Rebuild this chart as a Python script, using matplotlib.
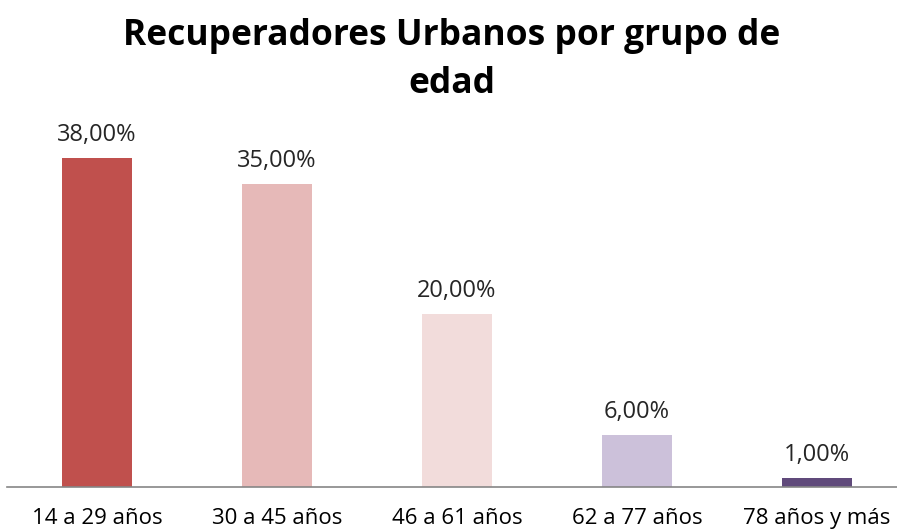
import numpy as np
import matplotlib.pyplot as plt

categories = ["14 a 29 años", "30 a 45 años", "46 a 61 años", "62 a 77 años", "78 años y más"]
values = [38, 35, 20, 6, 1]
colors = ["#C0504D", "#E6B9B8", "#F2DCDB", "#CCC1DA", "#604A7B"]

fig = plt.figure(figsize=(8.97, 5.31), dpi=100)
ax = fig.add_axes([7/897, 44/531, 900/897, 346/531])
x = np.arange(len(categories))
ax.bar(x, values, width=0.39, color=colors)
for xi, v in zip(x, values):
    ax.annotate(f"{v:.2f}%".replace(".", ","), (xi, v), xytext=(0, 8), textcoords="offset points",
                ha="center", va="bottom", fontsize=17, color="#262626", family="Open Sans")
ax.set_xlim(-0.5, 4.5)
ax.set_ylim(0, 40)
ax.set_yticks([])
ax.set_xticks(x)
ax.set_xticklabels(categories, fontsize=16, family="Open Sans", color="#000000")
ax.tick_params(axis="x", length=0, pad=15)
for s in ["top", "right", "left"]:
    ax.spines[s].set_visible(False)
ax.spines["bottom"].set_color("#868686")
ax.spines["bottom"].set_linewidth(1.2)
fig.text(0.504, 0.887, "Recuperadores Urbanos por grupo de\nedad", ha="center", va="center",
         fontsize=25.5, fontweight="bold", family="Open Sans", linespacing=1.45)
fig.savefig("out.png", dpi=100)
